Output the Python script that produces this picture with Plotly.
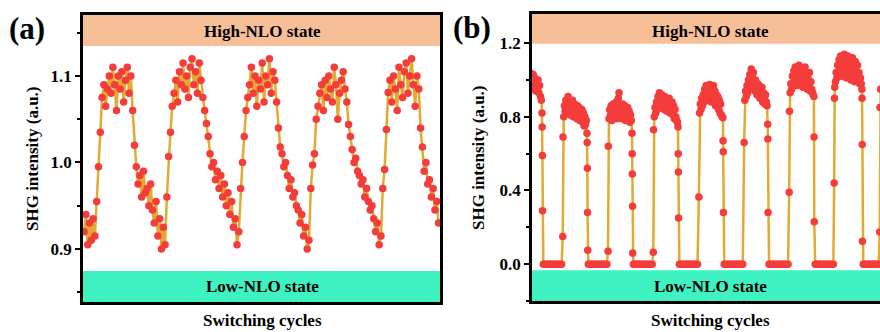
import numpy as np
import plotly.graph_objects as go

# ---------------- Panel (a): SHG intensity, uniformly sampled ----------------
shg_a = [
    0.92, 0.94, 0.905, 0.93, 0.91, 0.935, 0.915,
    0.955, 0.995, 1.035,
    1.075, 1.09, 1.065, 1.085, 1.10, 1.08, 1.11, 1.09, 1.06, 1.10, 1.085, 1.105, 1.07, 1.095, 1.11, 1.08, 1.10,
    1.06, 1.02, 0.995,
    0.975, 0.985, 0.96, 0.99, 0.965, 0.97, 0.95, 0.975, 0.945, 0.93, 0.955, 0.915, 0.935, 0.90, 0.925, 0.905,
    0.96, 1.007, 1.035, 1.065,
    1.08, 1.095, 1.07, 1.105, 1.09, 1.115, 1.085, 1.10, 1.075, 1.11, 1.12, 1.09, 1.105, 1.08, 1.115, 1.095, 1.075,
    1.06, 1.045, 1.03, 1.01,
    0.995, 1.0, 0.98, 0.99, 0.97, 0.985, 0.96, 0.975, 0.95, 0.965, 0.94, 0.955, 0.925, 0.935, 0.905, 0.92,
    0.97, 1.0, 1.03, 1.06,
    1.075, 1.09, 1.11, 1.08, 1.10, 1.065, 1.095, 1.085, 1.115, 1.07, 1.10, 1.09, 1.12, 1.08, 1.105, 1.095, 1.07,
    1.04, 1.018,
    1.01, 0.995, 1.0, 0.985, 0.97, 0.98, 0.96, 0.965, 0.95, 0.945, 0.93, 0.94, 0.915, 0.925, 0.90, 0.91,
    0.97, 0.997, 1.01, 1.05,
    1.065, 1.08, 1.09, 1.06, 1.095, 1.075, 1.10, 1.085, 1.07, 1.11, 1.09, 1.05, 1.08, 1.095, 1.105, 1.085, 1.07,
    1.044, 1.03, 1.015,
    1.0, 1.005, 0.99, 0.985, 0.975, 0.98, 0.96, 0.97, 0.955, 0.945, 0.95, 0.935, 0.92, 0.93, 0.905, 0.915,
    0.97, 0.992, 1.038, 1.081,
    1.095, 1.07, 1.10, 1.085, 1.06, 1.11, 1.09, 1.075, 1.105, 1.115, 1.08, 1.10, 1.12, 1.09, 1.065, 1.10, 1.085,
    1.04, 1.018,
    0.99, 1.0, 0.975, 0.98, 0.96, 0.97, 0.945, 0.955, 0.93,
]
sample_a = list(range(len(shg_a)))

# ---------------- Panel (b): on/off switching cycles ----------------
high_b = [
    [1.0, 0.96, 1.03, 0.98, 1.01, 0.95, 1.02, 0.99, 1.04, 0.97, 1.0, 1.03, 0.96, 1.01, 0.98,
     1.04, 0.95, 1.02, 0.99, 1.03, 0.97, 1.01, 0.94, 0.99, 0.96, 1.0, 0.93, 0.97, 0.91, 0.89],
    [0.80, 0.86, 0.83, 0.89, 0.82, 0.87, 0.91, 0.84, 0.88, 0.81, 0.86, 0.83, 0.89, 0.80, 0.85, 0.87,
     0.82, 0.84, 0.79, 0.86, 0.81, 0.85, 0.78, 0.83, 0.80, 0.84, 0.77, 0.82, 0.75, 0.80, 0.76, 0.78],
    [0.79, 0.84, 0.81, 0.86, 0.78, 0.83, 0.87, 0.80, 0.85, 0.82, 0.88, 0.79, 0.84, 0.90, 0.93, 0.86,
     0.81, 0.85, 0.79, 0.87, 0.83, 0.80, 0.86, 0.78, 0.84, 0.81, 0.85, 0.79, 0.83, 0.77, 0.81, 0.78],
    [0.80, 0.85, 0.82, 0.88, 0.84, 0.91, 0.86, 0.93, 0.89, 0.85, 0.92, 0.87, 0.90, 0.84, 0.91, 0.86,
     0.89, 0.83, 0.88, 0.85, 0.90, 0.82, 0.87, 0.84, 0.88, 0.81, 0.86, 0.79, 0.84, 0.80, 0.78, 0.77],
    [0.82, 0.87, 0.84, 0.90, 0.86, 0.92, 0.88, 0.95, 0.90, 0.97, 0.93, 0.89, 0.96, 0.91, 0.975, 0.94,
     0.88, 0.95, 0.92, 0.97, 0.89, 0.94, 0.86, 0.92, 0.88, 0.91, 0.84, 0.89, 0.82, 0.87, 0.81, 0.80],
    [0.89, 0.94, 0.91, 0.97, 0.93, 1.0, 0.95, 1.03, 0.98, 1.06, 1.02, 0.97, 1.04, 0.99, 0.94, 1.0,
     0.96, 0.92, 0.98, 0.93, 0.97, 0.90, 0.95, 0.91, 0.96, 0.88, 0.93, 0.90, 0.87, 0.92, 0.88, 0.86],
    [0.93, 0.98, 0.95, 1.02, 0.97, 1.05, 1.0, 1.07, 1.03, 0.97, 1.06, 1.01, 1.08, 1.04, 0.99, 1.06,
     1.02, 0.96, 1.05, 1.0, 1.07, 0.98, 1.03, 0.95, 1.01, 0.97, 1.04, 0.94, 0.99, 0.95, 0.93, 0.92],
    [0.99, 1.04, 1.01, 1.08, 1.03, 1.11, 1.06, 1.13, 1.09, 1.02, 1.12, 1.07, 1.14, 1.05, 1.10, 1.01, 1.08, 1.13,
     1.04, 1.11, 1.06, 1.00, 1.09, 1.12, 1.03, 1.07, 0.99, 1.10, 1.05, 1.02, 1.08, 1.00, 1.04, 0.98, 1.01, 0.98],
    [0.95, 1.00, 1.04, 1.02],
]
rise_b = [
    [],
    [0.15, 0.69],
    [0.07, 0.64],
    [0.065, 0.73],
    [0.365],
    [0.66],
    [0.39, 0.83],
    [0.44, 0.90, 0.96],
    [0.175, 0.85],
]
drop_b = [
    [0.82, 0.745, 0.59, 0.29],
    [0.71, 0.66, 0.52, 0.28, 0.075],
    [0.71, 0.60, 0.49, 0.315, 0.06],
    [0.745, 0.60, 0.50, 0.25],
    [0.795, 0.67, 0.61, 0.28],
    [0.76, 0.68, 0.28],
    [0.91, 0.69, 0.23],
    [0.95, 0.90, 0.65, 0.125],
]
high_time_b = [0.536, 0.53, 0.523, 0.54, 0.53, 0.52, 0.54, 0.60, 0.5]
low_points_b = [14, 14, 14, 14, 14, 14, 14, 12]
low_level_b = 0.0

tb, vb = [], []
for k in range(len(high_b)):
    r = rise_b[k]
    for j, v in enumerate(r):
        tb.append(k - 0.006 * (len(r) - 1 - j))
        vb.append(v)
    d = high_time_b[k]
    start = k + 0.015 if k > 0 else 0.0
    ts = np.linspace(start, k + d - 0.015, len(high_b[k]))
    tb.extend(ts.tolist())
    vb.extend(high_b[k])
    if k < len(drop_b):
        for j, v in enumerate(drop_b[k]):
            tb.append(k + d + 0.004 * j)
            vb.append(v)
        m = low_points_b[k]
        ts = np.linspace(k + d + 0.03, k + 1 - 0.03, m)
        tb.extend(ts.tolist())
        vb.extend([low_level_b] * m)

LINE_C = "#E2AA30"
MARK_C = "#F43C3A"
PEACH = "#F6BF98"
MINT = "#3EF2C2"
FONT = "Liberation Serif, Times New Roman, serif"

W, H = 880, 332
def px(x):
    return x / W
def py(y):
    return 1 - y / H

fig = go.Figure()
fig.add_trace(go.Scatter(
    x=sample_a, y=shg_a, mode="lines+markers", xaxis="x", yaxis="y",
    line=dict(color=LINE_C, width=2.5),
    marker=dict(color=MARK_C, size=7.5, line=dict(width=0)),
    showlegend=False, hoverinfo="skip",
))
fig.add_trace(go.Scatter(
    x=tb, y=vb, mode="lines+markers", xaxis="x2", yaxis="y2",
    line=dict(color=LINE_C, width=2.5),
    marker=dict(color=MARK_C, size=7.5, line=dict(width=0)),
    showlegend=False, hoverinfo="skip",
))

tickfont = dict(family=FONT, size=17, color="black", weight="bold")
common_x = dict(showline=True, linecolor="black", linewidth=2.5, mirror=True,
                ticks="", showticklabels=False, showgrid=False, zeroline=False)
common_y = dict(showline=True, linecolor="black", linewidth=2.5,
                ticks="outside", ticklen=5, tickwidth=2, tickcolor="black",
                tickfont=tickfont, showgrid=False, zeroline=False)

fig.update_layout(
    width=W, height=H,
    margin=dict(l=0, r=0, t=0, b=0),
    paper_bgcolor="white", plot_bgcolor="white",
    xaxis=dict(domain=[px(83), px(440)], range=[-0.6, len(shg_a) - 0.2], anchor="y", **common_x),
    yaxis=dict(domain=[py(302), py(15)], range=[0.8387, 1.1705], anchor="x", mirror=True,
               tickvals=[0.9, 1.0, 1.1], ticktext=["0.9", "1.0", "1.1"],
               minor=dict(tickvals=[0.85, 0.95, 1.05, 1.15], ticks="outside", ticklen=3,
                          tickwidth=2, tickcolor="black"),
               **common_y),
    xaxis2=dict(domain=[px(532), 1.0], range=[0.3155, 8.0], anchor="y2", **common_x),
    yaxis2=dict(domain=[py(301), py(14)], range=[-0.2, 1.358], anchor="x2", mirror=False,
                tickvals=[0.0, 0.4, 0.8, 1.2], ticktext=["0.0", "0.4", "0.8", "1.2"],
                minor=dict(tickvals=[-0.2, 0.2, 0.6, 1.0], ticks="outside", ticklen=3,
                           tickwidth=2, tickcolor="black"),
                **common_y),
)

shapes = [
    dict(type="rect", xref="x domain", yref="y", x0=0, x1=1, y0=1.1347, y1=1.1705,
         fillcolor=PEACH, line=dict(width=0), layer="below"),
    dict(type="rect", xref="x domain", yref="y", x0=0, x1=1, y0=0.8387, y1=0.8746,
         fillcolor=MINT, line=dict(width=0), layer="below"),
    dict(type="rect", xref="x2 domain", yref="y2", x0=0, x1=1, y0=1.197, y1=1.358,
         fillcolor=PEACH, line=dict(width=0), layer="below"),
    dict(type="rect", xref="x2 domain", yref="y2", x0=0, x1=1, y0=-0.2, y1=-0.033,
         fillcolor=MINT, line=dict(width=0), layer="below"),
]
fig.update_layout(shapes=shapes)

lab = dict(family=FONT, size=17, color="black", weight="bold")
big = dict(family=FONT, size=31, color="black", weight="bold")
ann = [
    dict(text="(a)", x=px(27), y=py(29), font=big),
    dict(text="(b)", x=px(472), y=py(27), font=big),
    dict(text="High-NLO state", x=px(262), y=py(32), font=lab),
    dict(text="High-NLO state", x=px(710), y=py(32), font=lab),
    dict(text="Low-NLO state", x=px(262), y=py(286), font=lab),
    dict(text="Low-NLO state", x=px(710), y=py(286), font=lab),
    dict(text="Switching cycles", x=px(262), y=py(320), font=lab),
    dict(text="Switching cycles", x=px(710), y=py(320), font=lab),
    dict(text="SHG intensity (a.u.)", x=px(32), y=py(159), font=lab, textangle=-90),
    dict(text="SHG intensity (a.u.)", x=px(479), y=py(158), font=lab, textangle=-90),
]
for a in ann:
    a.update(xref="paper", yref="paper", showarrow=False, xanchor="center", yanchor="middle")
fig.update_layout(annotations=ann)

fig.write_html("out.html")
